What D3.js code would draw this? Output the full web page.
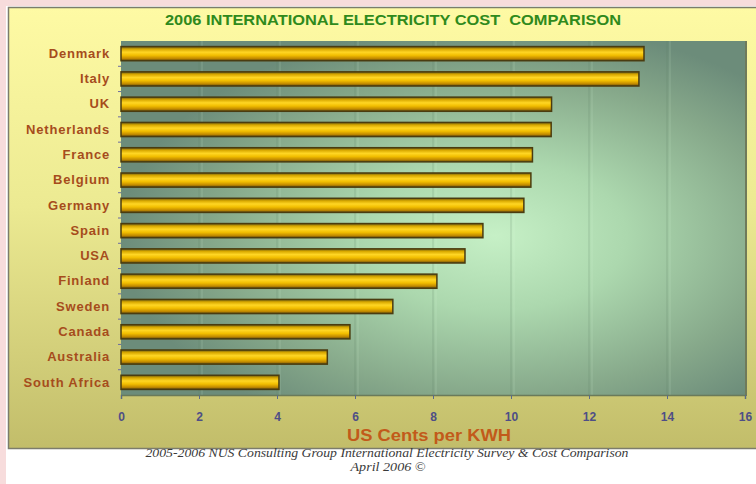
<!DOCTYPE html>
<html>
<head>
<meta charset="utf-8">
<script src="https://cdn.jsdelivr.net/npm/d3@7"></script>
<style>
  html, body { margin: 0; padding: 0; background: #ffffff; }
  svg { display: block; }
</style>
</head>
<body>
<svg id="chart" width="756" height="484"></svg>
<script>
const countries = ["Denmark","Italy","UK","Netherlands","France","Belgium","Germany","Spain","USA","Finland","Sweden","Canada","Australia","South Africa"];
const cents = [13.41, 13.28, 11.04, 11.03, 10.55, 10.51, 10.33, 9.28, 8.82, 8.10, 6.97, 5.87, 5.29, 4.05];
const xTicks = [0, 2, 4, 6, 8, 10, 12, 14, 16];
const titleText = "2006 INTERNATIONAL ELECTRICITY COST\u00a0\u00a0COMPARISON";
const xTitle = "US Cents per KWH";
const footnote = ["2005-2006 NUS Consulting Group International Electricity Survey & Cost Comparison", "April 2006 \u00a9"];

const svg = d3.select("#chart");
const W = 756, H = 484;
const plot = {left: 121, right: 745, top: 41, bottom: 395};

const defs = svg.append("defs");
const pg = defs.append("linearGradient").attr("id","panelGrad").attr("x1",0).attr("y1",0).attr("x2",0).attr("y2",1);
pg.append("stop").attr("offset","0%").attr("stop-color","#fefaa4");
pg.append("stop").attr("offset","45%").attr("stop-color","#ecea92");
pg.append("stop").attr("offset","100%").attr("stop-color","#c2bd6a");

const rg = defs.append("radialGradient").attr("id","plotGrad")
  .attr("cx","0.6").attr("cy","0.55").attr("r","0.6").attr("fx","0.6").attr("fy","0.55");
rg.append("stop").attr("offset","0%").attr("stop-color","#c6f0c6");
rg.append("stop").attr("offset","35%").attr("stop-color","#acd8ae");
rg.append("stop").attr("offset","75%").attr("stop-color","#86a88a");
rg.append("stop").attr("offset","100%").attr("stop-color","#6c8c7a");

const bg = defs.append("linearGradient").attr("id","barGrad").attr("x1",0).attr("y1",0).attr("x2",0).attr("y2",1);
bg.append("stop").attr("offset","0%").attr("stop-color","#6a5a14");
bg.append("stop").attr("offset","18%").attr("stop-color","#d8a800");
bg.append("stop").attr("offset","40%").attr("stop-color","#ffd624");
bg.append("stop").attr("offset","62%").attr("stop-color","#f2be00");
bg.append("stop").attr("offset","85%").attr("stop-color","#c08800");
bg.append("stop").attr("offset","100%").attr("stop-color","#5a4810");

// page decoration (pink strips)
svg.append("rect").attr("x",0).attr("y",0).attr("width",W).attr("height",6).attr("fill","#f7dcdc");
svg.append("rect").attr("x",0).attr("y",0).attr("width",6).attr("height",H).attr("fill","#f7dcdc");

// panel
svg.append("rect").attr("x",8.5).attr("y",7.5).attr("width",W).attr("height",441)
  .attr("fill","url(#panelGrad)").attr("stroke","#7c7c6c").attr("stroke-width",1.5);

// plot background
svg.append("rect").attr("x",plot.left).attr("y",plot.top)
  .attr("width",plot.right-plot.left).attr("height",plot.bottom-plot.top)
  .attr("fill","url(#plotGrad)");
// right edge shadow
svg.append("line").attr("x1",plot.right+1).attr("x2",plot.right+1).attr("y1",plot.top).attr("y2",plot.bottom+1)
  .attr("stroke","#6f7a5a").attr("stroke-width",2);

const x = d3.scaleLinear().domain([0,16]).range([plot.left, plot.right]);
const y = d3.scaleBand().domain(countries).range([plot.top, plot.bottom]).paddingInner(0.44).paddingOuter(0.22);
const yFull = d3.scaleBand().domain(countries).range([plot.top, plot.bottom]);

// gridlines
const grid = svg.append("g");
xTicks.filter(t => t>0 && t<16).forEach(t => {
  grid.append("line").attr("x1",x(t)).attr("x2",x(t)).attr("y1",plot.top).attr("y2",plot.bottom)
    .attr("stroke","#5f7f66").attr("stroke-opacity",0.3).attr("stroke-width",1);
  grid.append("line").attr("x1",x(t)+3).attr("x2",x(t)+3).attr("y1",plot.top).attr("y2",plot.bottom)
    .attr("stroke","#e0ffe0").attr("stroke-opacity",0.2).attr("stroke-width",1);
});

// bars
svg.append("g").selectAll("rect").data(countries).join("rect")
  .attr("x", x(0))
  .attr("y", d => y(d))
  .attr("width", (d,i) => x(cents[i]) - x(0))
  .attr("height", y.bandwidth())
  .attr("fill","url(#barGrad)")
  .attr("stroke","#4a3c10").attr("stroke-width",1.5);

// x axis
const xAxis = svg.append("g").attr("transform",`translate(0,${plot.bottom})`)
  .call(d3.axisBottom(x).tickValues(xTicks).tickSize(4).tickPadding(13).tickFormat(d3.format("d")));
xAxis.select(".domain").attr("stroke","#6a7a5a").attr("stroke-width",1.5);
xAxis.selectAll(".tick line").attr("stroke","#5a6a8a");
xAxis.selectAll("text").attr("fill","#4e4e86").attr("font-family","'Liberation Sans', Arial, sans-serif")
  .attr("font-weight","bold").attr("font-size",12);

// y axis
const yAxis = svg.append("g").attr("transform",`translate(${plot.left},0)`)
  .call(d3.axisLeft(y).tickSize(0).tickPadding(11));
yAxis.select(".domain").remove();
yAxis.selectAll("text").attr("fill","#a64c1c").attr("font-family","'Liberation Sans', Arial, sans-serif")
  .attr("font-weight","bold").attr("font-size",13).attr("letter-spacing",0.8);
// small tick marks at band boundaries
svg.append("g").selectAll("line").data(countries.slice(1)).join("line")
  .attr("x1",plot.left-3).attr("x2",plot.left)
  .attr("y1", d => yFull(d)).attr("y2", d => yFull(d))
  .attr("stroke","#6a6aa0").attr("stroke-width",1);

// title
svg.append("text").attr("x",393).attr("y",25).attr("text-anchor","middle")
  .attr("fill","#2f8a1c").attr("font-family","'Liberation Sans', Arial, sans-serif")
  .attr("font-weight","bold").attr("font-size",14)
  .attr("textLength",456).attr("lengthAdjust","spacingAndGlyphs").text(titleText);

// x axis title
svg.append("text").attr("x",429).attr("y",441).attr("text-anchor","middle")
  .attr("fill","#c25a1a").attr("font-family","'Liberation Sans', Arial, sans-serif")
  .attr("font-weight","bold").attr("font-size",16)
  .attr("textLength",164).attr("lengthAdjust","spacingAndGlyphs").text(xTitle);

// footnote
svg.append("text").attr("x",387).attr("y",457).attr("text-anchor","middle")
  .attr("fill","#3a3a3a").attr("font-family","'Liberation Serif', 'Times New Roman', serif")
  .attr("font-style","italic").attr("font-size",13)
  .attr("textLength",483).attr("lengthAdjust","spacingAndGlyphs").text(footnote[0]);
svg.append("text").attr("x",388).attr("y",471).attr("text-anchor","middle")
  .attr("fill","#3a3a3a").attr("font-family","'Liberation Serif', 'Times New Roman', serif")
  .attr("font-style","italic").attr("font-size",13)
  .attr("textLength",75).attr("lengthAdjust","spacingAndGlyphs").text(footnote[1]);
</script>
</body>
</html>
